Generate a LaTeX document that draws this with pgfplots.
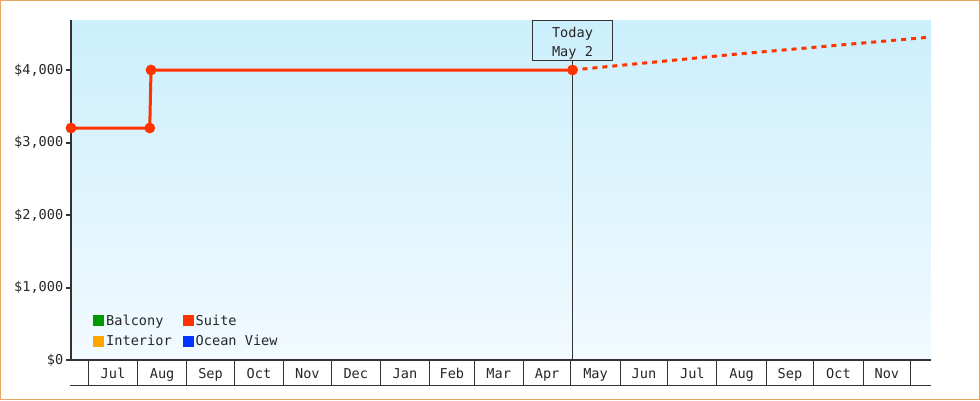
\documentclass[border=0pt]{standalone}
\usepackage{fontspec}
\setmainfont{DejaVu Sans Mono}
\usepackage{pgfplots}
\pgfplotsset{compat=1.18}

\definecolor{suite}{HTML}{FF3300}
\definecolor{balcony}{HTML}{009900}
\definecolor{interior}{HTML}{FFA500}
\definecolor{ocean}{HTML}{0033FF}
\definecolor{axisdark}{HTML}{333333}
\definecolor{bgtop}{HTML}{CBEFFC}
\definecolor{bgbot}{HTML}{F2FAFF}
\definecolor{framecol}{HTML}{E8A862}

\begin{document}
\fontsize{13.6}{16}\selectfont
\begin{tikzpicture}[x=1pt,y=1pt]
\path[use as bounding box] (0,0) rectangle (980,400);
\draw[framecol, line width=1pt] (0.5,0.5) rectangle (979.5,399.5);

\begin{axis}[
  at={(71pt,40pt)}, anchor=south west,
  scale only axis, width=860pt, height=340pt,
  xmin=-10.9, xmax=530.8, ymin=0, ymax=4690,
  clip=false,
  axis x line=bottom, axis y line=left,
  axis line style={-, axisdark},
  x axis line style={line width=1.2pt},
  y axis line style={line width=2.6pt},
  axis background/.style={shade, top color=bgtop, bottom color=bgbot, draw=none},
  tick align=outside, major tick length=5pt,
  x tick style={draw=none},
  y tick style={line width=2pt, axisdark},
  ytick={0,1000,2000,3000,4000},
  yticklabels={{\$0},{\$1,000},{\$2,000},{\$3,000},{\$4,000}},
  yticklabel style={xshift=2pt},
  xtick={15.5,46.5,77,107.5,138,168.5,199.5,229,258.5,289,319.5,350,380.5,411.5,442,472.5,503},
  xticklabels={Jul,Aug,Sep,Oct,Nov,Dec,Jan,Feb,Mar,Apr,May,Jun,Jul,Aug,Sep,Oct,Nov},
  tick label style={font=\fontsize{13.6}{16}\selectfont, text=black!85},
  xticklabel style={anchor=base, yshift=-13pt},
  legend columns=2,
  legend cell align=left,
  legend image code/.code={\fill (0pt,-5.5pt) rectangle (11pt,5.5pt);},
  legend style={at={(0.0256,0.134)}, anchor=north west, draw=none, fill=none,
    font=\fontsize{13.6}{16}\selectfont, text=black!85,
    inner sep=0pt, row sep=8pt,
    nodes={inner xsep=2pt, inner ysep=0pt},
    /tikz/every even column/.append style={column sep=9pt}},
]

\addlegendimage{fill=balcony, draw=none}
\addlegendentry{Balcony}
\addlegendimage{fill=suite, draw=none}
\addlegendentry{Suite}
\addlegendimage{fill=interior, draw=none}
\addlegendentry{Interior}
\addlegendimage{fill=ocean, draw=none}
\addlegendentry{Ocean View}

% month boundaries of the label row
\pgfplotsinvokeforeach{0,31,62,92,123,153,184,215,243,274,304,335,365,396,427,457,488,518}{
  \draw[axisdark, line width=1pt] (axis cs:#1,0) -- ([yshift=-25pt]axis cs:#1,0);
}
\draw[axisdark, line width=1pt] ([xshift=-1pt, yshift=-25pt]rel axis cs:0,0) -- ([yshift=-25pt]rel axis cs:1,0);

% today marker
\node[draw=axisdark, line width=1pt, anchor=north, minimum width=80pt, minimum height=40pt,
  inner sep=0pt] (today) at (axis cs:305,4690) {};
\node[align=center, inner sep=0pt, font=\fontsize{13.6}{19.5}\selectfont, text=black!85]
  at ([yshift=-2.5pt]today.center) {Today\\May 2};
\draw[axisdark, line width=1pt] (axis cs:305,0) -- (today.south);

% forecast
\addplot[forget plot, suite, line width=3pt, dash pattern=on 5pt off 5pt] coordinates {
(305,4000) (406,4215) (530.8,4455)
};

% history
\addplot[forget plot, suite, line width=3pt, mark=*, mark size=3.8pt] coordinates {
(-10.9,3200) (38.7,3200) (39.5,4000) (305,4000)
};

\end{axis}
\end{tikzpicture}
\end{document}
